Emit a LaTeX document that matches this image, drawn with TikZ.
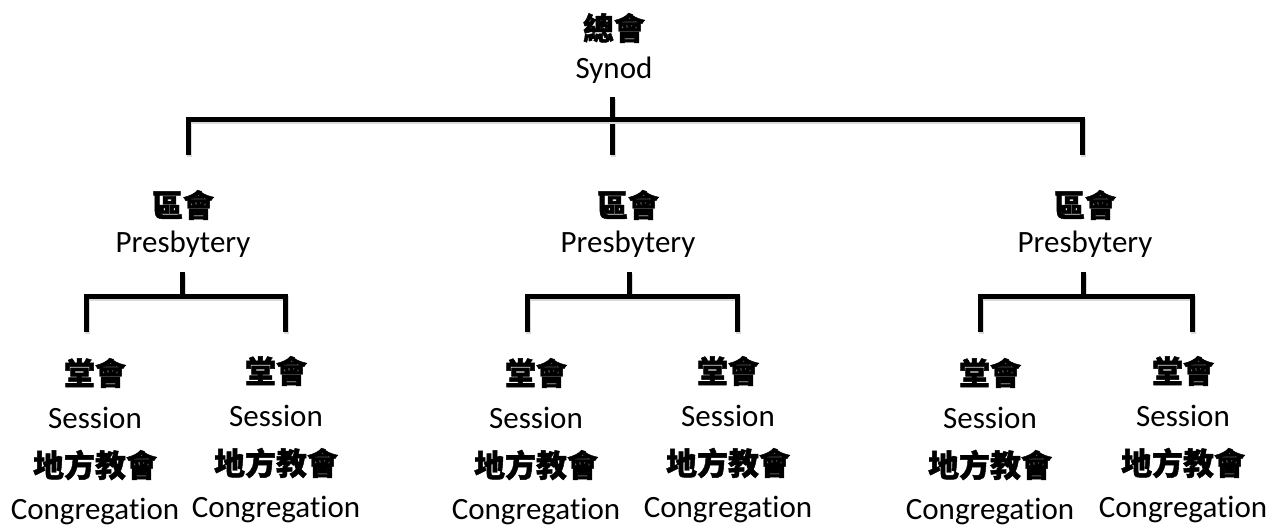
\documentclass[tikz,border=0pt]{standalone}
\usepackage{fontspec}
\setmainfont{Carlito}[Ligatures=NoCommon,RawFeature={-clig;-calt;-dlig}]
\newfontfamily\cjk{Noto Sans CJK TC}[BoldFeatures={FakeBold=1.5}]
\usepackage{tikz}
\tikzset{
  bracketLine/.style={draw=black, line width=5pt, line join=miter,
    preaction={draw=black!15, line width=5pt, transform canvas={xshift=1pt,yshift=-2pt}}},
  zhLbl/.style={inner sep=0pt, font=\cjk\bfseries\fontsize{31}{31}\selectfont},
  enLbl/.style={inner sep=0pt, anchor=base, font=\fontsize{31}{31}\selectfont},
}
\newcommand{\ChildCol}[3]{%
  \node[zhLbl] (#1Zh)   at (#2,{373-#3}) {堂會};
  \node[enLbl] (#1Sess) at (#2,{428-#3}) {Session};
  \node[zhLbl] (#1Loc)  at (#2,{465-#3}) {地方教會};
  \node[enLbl] (#1Cong) at (#2,{519-#3}) {Congregation};
}

\begin{document}
\begin{tikzpicture}[x=1pt,y=-1pt]
  \useasboundingbox (0,0) rectangle (1274,529);

  % synod
  \node[zhLbl] (synZh) at (614,28) {總會};
  \node[enLbl] (synEn) at (614,79) {Synod};
  \coordinate (synTop)  at (612,97);
  \coordinate (synDown) at (612,155);
  \coordinate (barL) at (188,120);
  \coordinate (barR) at (1082,120);
  \coordinate (legL) at (188,155);
  \coordinate (legR) at (1082,155);
  \draw[bracketLine] (synTop) -- (synDown);
  \draw[bracketLine] (legL) -- (barL) -- (barR) -- (legR);

  % presbyteries
  \node[zhLbl] (presAZh) at (183,205) {區會};
  \node[enLbl] (presAEn) at (183,253) {Presbytery};
  \node[zhLbl] (presBZh) at (628,205) {區會};
  \node[enLbl] (presBEn) at (628,253) {Presbytery};
  \node[zhLbl] (presCZh) at (1085,205) {區會};
  \node[enLbl] (presCEn) at (1085,253) {Presbytery};

  % brackets under each presbytery
  \coordinate (aTop) at (182,272);  \coordinate (aMid) at (182,297);
  \coordinate (aBarL) at (86,297);  \coordinate (aBarR) at (285,297);
  \coordinate (aLegL) at (86,332);  \coordinate (aLegR) at (285,332);
  \coordinate (bTop) at (629,272);  \coordinate (bMid) at (629,297);
  \coordinate (bBarL) at (527,297); \coordinate (bBarR) at (737,297);
  \coordinate (bLegL) at (527,332); \coordinate (bLegR) at (737,332);
  \coordinate (cTop) at (1083,272); \coordinate (cMid) at (1083,297);
  \coordinate (cBarL) at (980,297); \coordinate (cBarR) at (1192,297);
  \coordinate (cLegL) at (980,332); \coordinate (cLegR) at (1192,332);
  \draw[bracketLine] (aTop) -- (aMid);
  \draw[bracketLine] (aLegL) -- (aBarL) -- (aBarR) -- (aLegR);
  \draw[bracketLine] (bTop) -- (bMid);
  \draw[bracketLine] (bLegL) -- (bBarL) -- (bBarR) -- (bLegR);
  \draw[bracketLine] (cTop) -- (cMid);
  \draw[bracketLine] (cLegL) -- (cBarL) -- (cBarR) -- (cLegR);

  % sessions and congregations
  \ChildCol{aOne}{95}{0}
  \ChildCol{aTwo}{276}{2}
  \ChildCol{bOne}{536}{0}
  \ChildCol{bTwo}{728}{2}
  \ChildCol{cOne}{990}{0}
  \ChildCol{cTwo}{1183}{2}
\end{tikzpicture}
\end{document}
